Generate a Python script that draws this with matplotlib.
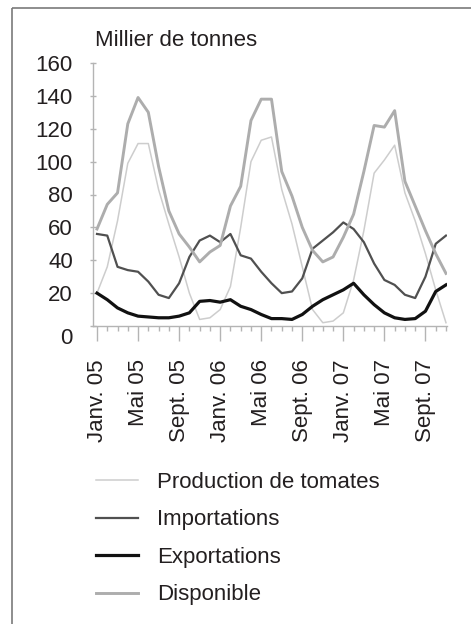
"""Tomato supply chart: production, imports, exports and availability."""

import matplotlib

matplotlib.use("Agg")

import matplotlib.pyplot as plt
import matplotlib.transforms as mtransforms
from matplotlib.patches import Rectangle
from matplotlib.ticker import FixedLocator, MultipleLocator


# monthly values, Jan 2005 .. Nov 2007 (thousand tonnes)
PRODUCTION = [20, 36, 64, 99, 111, 111, 83, 62, 42, 20, 4, 5,
              10, 24, 60, 100, 113, 115, 83, 62, 36, 10, 2, 3,
              8, 28, 58, 93, 101, 110, 81, 64, 44, 22, 2]
IMPORTS = [56, 55, 36, 34, 33, 27, 19, 17, 26, 42, 52, 55,
           51, 56, 43, 41, 33, 26, 20, 21, 29, 47, 52, 57,
           63, 59, 51, 38, 28, 25, 19, 17, 30, 50, 55]
EXPORTS = [20, 16, 11, 8, 6, 5.5, 5, 5, 6, 8, 15, 15.5,
           14.5, 16, 12, 10, 7, 4.5, 4.5, 4, 7, 12, 16, 19,
           22, 26, 19, 13, 8, 5, 4, 4.5, 9, 21, 25]
AVAILABLE = [59, 74, 81, 123, 139, 130, 97, 70, 56, 48, 39, 45,
             49, 73, 85, 125, 138, 138, 94, 79, 60, 46, 39, 42,
             54, 68, 94, 122, 121, 131, 88, 73, 58, 44, 32]

TICK_MONTHS = [0, 4, 8, 12, 16, 20, 24, 28, 32]
TICK_LABELS = ["Janv. 05", "Mai 05", "Sept. 05",
               "Janv. 06", "Mai 06", "Sept. 06",
               "Janv. 07", "Mai 07", "Sept. 07"]
Y_TICKS = [0, 20, 40, 60, 80, 100, 120, 140, 160]

W, H = 471, 624
TEXT = "#231f20"
AXIS = "#b4b4b4"
FONT = 16


def px(x, y):
    """Pixel position (from top-left) to figure fraction."""
    return x / W, 1 - y / H


def main():
    plt.rcParams["font.family"] = ["Liberation Sans", "DejaVu Sans"]
    fig = plt.figure(figsize=(W / 100, H / 100), dpi=100)

    left, top = px(93, 63)
    right, bottom = px(447, 326)
    ax = fig.add_axes([left, bottom, right - left, top - bottom])

    months = list(range(len(PRODUCTION)))
    ax.plot(months, PRODUCTION, color="#cdcdcd", lw=1.1, label="Production de tomates")
    ax.plot(months, IMPORTS, color="#505050", lw=1.6, label="Importations")
    ax.plot(months, EXPORTS, color="#111111", lw=2.3, label="Exportations")
    ax.plot(months, AVAILABLE, color="#adadad", lw=2.1, label="Disponible")

    ax.set_xlim(-0.39, 34.1)
    ax.set_ylim(0, 160)
    for side in ("top", "right"):
        ax.spines[side].set_visible(False)
    for side in ("left", "bottom"):
        ax.spines[side].set_color(AXIS)
        ax.spines[side].set_linewidth(1.0)

    ax.yaxis.set_major_locator(FixedLocator(Y_TICKS))
    ax.set_yticklabels([str(v) for v in Y_TICKS])
    ax.tick_params(axis="y", direction="inout", length=5, width=1, color=AXIS,
                   pad=12, labelsize=FONT, labelcolor=TEXT)

    ax.xaxis.set_major_locator(FixedLocator(TICK_MONTHS))
    ax.xaxis.set_minor_locator(MultipleLocator(1))
    ax.set_xticklabels(TICK_LABELS, rotation=90)
    ax.tick_params(axis="x", which="major", direction="out", length=10.8, width=1,
                   color=AXIS, pad=13, labelsize=FONT, labelcolor=TEXT)
    ax.tick_params(axis="x", which="minor", direction="out", length=3.6, width=1,
                   color=AXIS)

    # the zero label sits a little below the axis line in the original
    zero = ax.yaxis.get_major_ticks()[0].label1
    zero.set_transform(zero.get_transform()
                       + mtransforms.ScaledTranslation(0, -0.1, fig.dpi_scale_trans))

    fig.text(*px(95, 40), "Millier de tonnes", fontsize=FONT, color=TEXT,
             ha="left", va="center")

    fig.legend(loc="upper left", bbox_to_anchor=px(96, 472), frameon=False,
               fontsize=FONT, labelcolor=TEXT, handlelength=1.9,
               handletextpad=0.85, labelspacing=0.74, borderpad=0,
               borderaxespad=0)

    # thin frame around the graphic (only top and left edges are visible)
    fig.patches.append(Rectangle(px(11.5, 7.5), 1.2, -1.2, transform=fig.transFigure,
                                 fill=False, edgecolor="#7a7a7a", lw=1.2))

    fig.savefig("out.png", dpi=100)
    plt.close(fig)


if __name__ == "__main__":
    main()
